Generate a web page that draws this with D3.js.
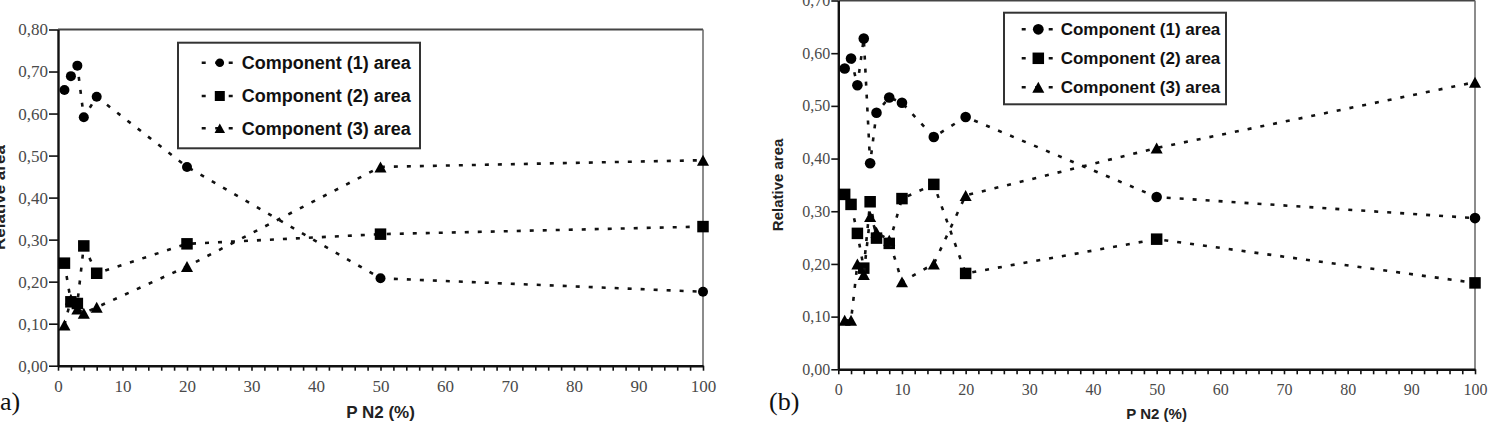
<!DOCTYPE html>
<html>
<head>
<meta charset="utf-8">
<script src="https://cdn.jsdelivr.net/npm/d3@7"></script>
<style>
  html, body { margin: 0; padding: 0; background: #fff; }
  svg { display: block; }
  .tick text { font-family: "Liberation Serif", "Times New Roman", serif; fill: #4a4a4a; }
  .title { font-family: "Liberation Sans", Arial, sans-serif; font-weight: bold; fill: #222; }
  .legend text { font-family: "Liberation Sans", Arial, sans-serif; font-weight: bold; fill: #111; }
</style>
</head>
<body>
<svg id="chart" width="1490" height="432"></svg>
<script>
// panel (a)
var xA = [1, 2, 3, 4, 6, 20, 50, 100];
var comp1A = [0.656, 0.689, 0.714, 0.591, 0.640, 0.473, 0.208, 0.176];
var comp2A = [0.244, 0.152, 0.148, 0.285, 0.220, 0.290, 0.313, 0.331];
var comp3A = [0.097, 0.158, 0.135, 0.125, 0.139, 0.236, 0.473, 0.489];

// panel (b)
var xB = [1, 2, 3, 4, 5, 6, 8, 10, 15, 20, 50, 100];
var comp1B = [0.571, 0.590, 0.539, 0.628, 0.391, 0.487, 0.516, 0.506, 0.441, 0.479, 0.327, 0.287];
var comp2B = [0.332, 0.313, 0.258, 0.192, 0.318, 0.249, 0.239, 0.324, 0.351, 0.182, 0.247, 0.164];
var comp3B = [0.093, 0.093, 0.200, 0.180, 0.290, 0.260, 0.245, 0.166, 0.200, 0.330, 0.420, 0.545];

var seriesNames = ["Component (1) area", "Component (2) area", "Component (3) area"];
var markerKinds = ["circle", "square", "triangle"];
var xTicksMajor = [0, 10, 20, 30, 40, 50, 60, 70, 80, 90, 100];
var xTitle = "P N2 (%)";
var yTitle = "Relative area";

var svg = d3.select("#chart");
var fmt = function(d) { return d3.format(".2f")(d).replace(".", ","); };

var panels = [
  { tag: "(a)", xs: xA, series: [comp1A, comp2A, comp3A], yMax: 0.8,
    left: 58, right: 703, top: 29.5, bottom: 365.7,
    tickFont: 17, yTickLen: 9, titleFont: 17, markR: 5, markS: 11.5,
    yTitleX: 5, xTitleY: 418, tagX: -8.7, tagY: 410,
    legend: { x: 178, y: 42.7, w: 242, h: 105.6, rows: [62.7, 96, 128.3],
              s0: 201.7, s1: 238, m: 219.8, tx: 241.7, font: 18, r: 4.3, s: 10 } },
  { tag: "(b)", xs: xB, series: [comp1B, comp2B, comp3B], yMax: 0.7,
    left: 838.3, right: 1475, top: 0.5, bottom: 369.3,
    tickFont: 16, yTickLen: 7, titleFont: 15, markR: 5.3, markS: 11.5,
    yTitleX: 783, xTitleY: 419, tagX: 769, tagY: 410,
    legend: { x: 1004, y: 12.7, w: 222, h: 91.6, rows: [29.3, 58.3, 87.3],
              s0: 1021.7, s1: 1055, m: 1038.3, tx: 1060.7, font: 17, r: 5.4, s: 11.5 } }
];

function drawMarker(g, kind, cx, cy, r, s) {
  if (kind === "circle") {
    g.append("circle").attr("cx", cx).attr("cy", cy).attr("r", r).attr("fill", "#000");
  } else if (kind === "square") {
    g.append("rect").attr("x", cx - s / 2).attr("y", cy - s / 2)
      .attr("width", s).attr("height", s).attr("fill", "#000");
  } else {
    var w = s * 1.05, h = s * 0.95;
    g.append("path")
      .attr("d", "M" + cx + "," + (cy - h / 2) + "L" + (cx + w / 2) + "," + (cy + h / 2) +
                 "L" + (cx - w / 2) + "," + (cy + h / 2) + "Z")
      .attr("fill", "#000");
  }
}

panels.forEach(function(p) {
  var x = d3.scaleLinear().domain([0, 100]).range([p.left, p.right]);
  var y = d3.scaleLinear().domain([0, p.yMax]).range([p.bottom, p.top]);
  var g = svg.append("g");

  // frame top / right
  g.append("line").attr("x1", p.left).attr("x2", p.right).attr("y1", p.top).attr("y2", p.top)
    .attr("stroke", "#444").attr("stroke-width", 2);
  g.append("line").attr("x1", p.right).attr("x2", p.right).attr("y1", p.top).attr("y2", p.bottom)
    .attr("stroke", "#666").attr("stroke-width", 1.5);

  // axes
  var yAxis = d3.axisLeft(y)
    .tickValues(d3.range(0, p.yMax + 0.001, 0.1))
    .tickFormat(fmt).tickSize(p.yTickLen).tickSizeOuter(0).tickPadding(1);
  var gy = g.append("g").attr("transform", "translate(" + p.left + ",0)").call(yAxis);

  var xAxis = d3.axisBottom(x)
    .tickValues(d3.range(0, 101, 2))
    .tickFormat(function(d) { return xTicksMajor.indexOf(d) >= 0 ? d : ""; })
    .tickSize(5).tickSizeOuter(0).tickPadding(9);
  var gx = g.append("g").attr("transform", "translate(0," + p.bottom + ")").call(xAxis);

  [gx, gy].forEach(function(a) {
    a.select(".domain").attr("stroke", "#111").attr("stroke-width", 2.4);
    a.selectAll(".tick line").attr("stroke", "#111").attr("stroke-width", 1.6);
    a.selectAll(".tick text").style("font-size", p.tickFont + "px");
  });

  // series
  p.series.forEach(function(vals, i) {
    var pts = p.xs.map(function(d, j) { return [d, vals[j]]; });
    var line = d3.line().x(function(d) { return x(d[0]); }).y(function(d) { return y(d[1]); });
    g.append("path").datum(pts).attr("d", line)
      .attr("fill", "none").attr("stroke", "#111").attr("stroke-width", 2.6)
      .attr("stroke-dasharray", "4,9");
    var mg = g.append("g");
    pts.forEach(function(d) {
      drawMarker(mg, markerKinds[i], x(d[0]), y(d[1]), p.markR, p.markS);
    });
  });

  // legend
  var L = p.legend;
  var lg = g.append("g").attr("class", "legend");
  lg.append("rect").attr("x", L.x).attr("y", L.y).attr("width", L.w).attr("height", L.h)
    .attr("fill", "#fff").attr("stroke", "#333").attr("stroke-width", 2);
  seriesNames.forEach(function(name, i) {
    var ry = L.rows[i];
    lg.append("line").attr("x1", L.s0).attr("x2", L.s1).attr("y1", ry).attr("y2", ry)
      .attr("stroke", "#111").attr("stroke-width", 2.6).attr("stroke-dasharray", "4,9.5");
    drawMarker(lg, markerKinds[i], L.m, ry, L.r, L.s);
    lg.append("text").attr("x", L.tx).attr("y", ry).attr("dy", "0.36em")
      .style("font-size", L.font + "px").text(name);
  });

  // titles
  g.append("text").attr("class", "title")
    .attr("x", (p.left + p.right) / 2).attr("y", p.xTitleY)
    .attr("text-anchor", "middle").style("font-size", p.titleFont + "px").text(xTitle);
  g.append("text").attr("class", "title")
    .attr("transform", "translate(" + p.yTitleX + "," + ((p.top + p.bottom) / 2) + ") rotate(-90)")
    .attr("text-anchor", "middle").style("font-size", p.titleFont + "px").text(yTitle);

  g.append("text").attr("x", p.tagX).attr("y", p.tagY)
    .style("font-family", "'Liberation Serif', 'Times New Roman', serif")
    .style("font-size", "26px").attr("fill", "#111").text(p.tag);
});
</script>
</body>
</html>
